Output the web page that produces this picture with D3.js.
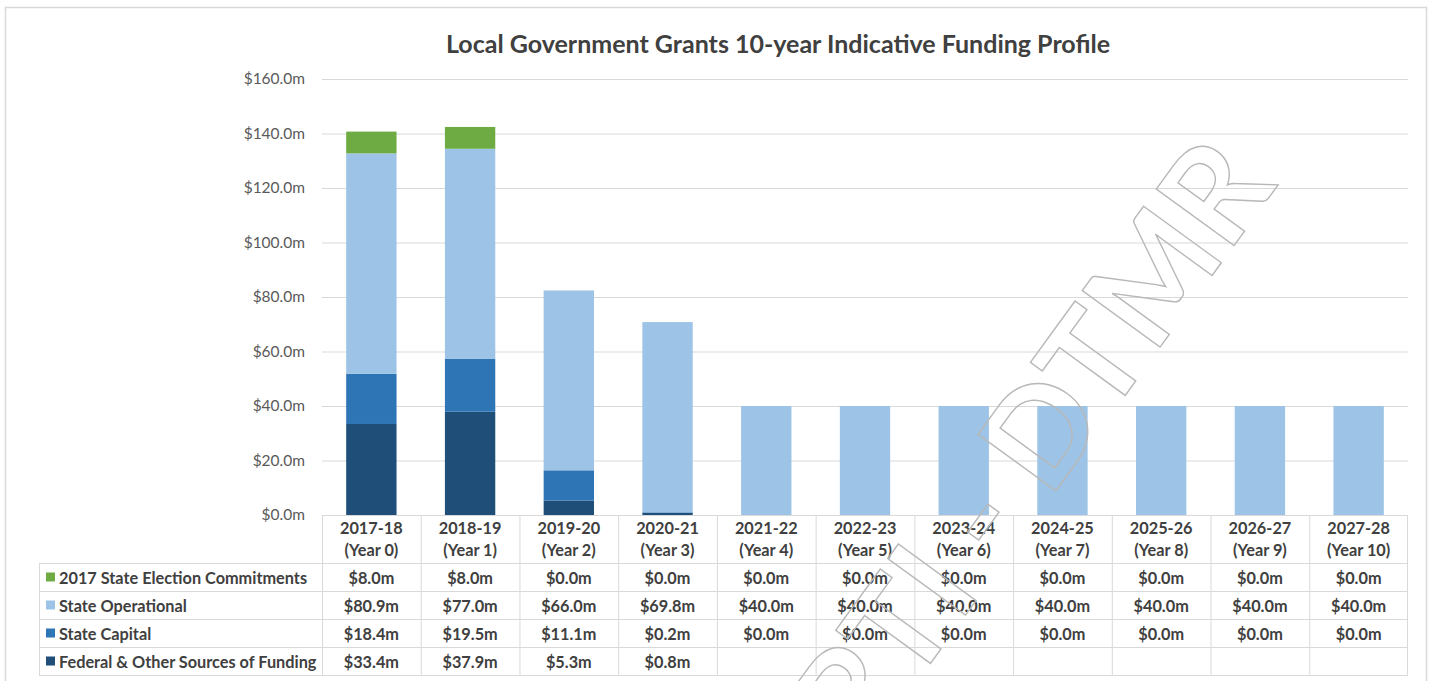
<!DOCTYPE html>
<html>
<head>
<meta charset="utf-8">
<script src="https://cdn.jsdelivr.net/npm/d3@7"></script>
<style>
  html, body { margin: 0; padding: 0; background: #ffffff; }
  svg { display: block; }
  text { font-family: "Lato", "Open Sans", sans-serif; }
</style>
</head>
<body>
<svg id="chart" width="1431" height="681"></svg>
<script>
// Financial years and their programme-year labels
const years = ["2017-18", "2018-19", "2019-20", "2020-21", "2021-22", "2022-23",
               "2023-24", "2024-25", "2025-26", "2026-27", "2027-28"];
const yearTags = ["(Year 0)", "(Year 1)", "(Year 2)", "(Year 3)", "(Year 4)", "(Year 5)",
                  "(Year 6)", "(Year 7)", "(Year 8)", "(Year 9)", "(Year 10)"];

// Funding streams ($m); null = no entry for that year
const electionCommitments = [8.0, 8.0, 0.0, 0.0, 0.0, 0.0, 0.0, 0.0, 0.0, 0.0, 0.0];
const stateOperational    = [80.9, 77.0, 66.0, 69.8, 40.0, 40.0, 40.0, 40.0, 40.0, 40.0, 40.0];
const stateCapital        = [18.4, 19.5, 11.1, 0.2, 0.0, 0.0, 0.0, 0.0, 0.0, 0.0, 0.0];
const federalOther        = [33.4, 37.9, 5.3, 0.8, null, null, null, null, null, null, null];

const seriesNames = ["2017 State Election Commitments", "State Operational",
                     "State Capital", "Federal & Other Sources of Funding"];
const yTicks = [0, 20, 40, 60, 80, 100, 120, 140, 160];

const seriesValues = {
  "2017 State Election Commitments": electionCommitments,
  "State Operational": stateOperational,
  "State Capital": stateCapital,
  "Federal & Other Sources of Funding": federalOther
};
const seriesColors = {
  "2017 State Election Commitments": "#6eac43",
  "State Operational": "#9dc3e6",
  "State Capital": "#2e75b6",
  "Federal & Other Sources of Funding": "#1f4e79"
};
// bottom-to-top stacking order
const stackOrder = ["Federal & Other Sources of Funding", "State Capital",
                    "State Operational", "2017 State Election Commitments"];

const svg = d3.select("#chart");
const fmt = v => "$" + v.toFixed(1) + "m";
const gridColor = "#d9d9d9";
const textColor = "#404040";
const tableFont = 16.3;

// Chart frame
svg.append("rect")
  .attr("x", 5.5).attr("y", 7.5).attr("width", 1421).attr("height", 690)
  .attr("fill", "#ffffff").attr("stroke", "#d9d9d9").attr("stroke-width", 1.5);

// Title
svg.append("text")
  .attr("x", 778).attr("y", 43)
  .attr("text-anchor", "middle").attr("dominant-baseline", "central")
  .attr("font-size", 25).attr("font-weight", 700).attr("fill", "#404040")
  .text("Local Government Grants 10-year Indicative Funding Profile");

// Scales
const x = d3.scaleBand().domain(years).range([322, 1408]).padding(0);
const y = d3.scaleLinear().domain([0, 160]).range([515, 79]);
const barW = x.bandwidth() * 0.51;

// Horizontal gridlines and value axis
const yAxis = d3.axisLeft(y).tickValues(yTicks).tickFormat(fmt)
  .tickSize(-(1408 - 322)).tickPadding(17);
const gy = svg.append("g").attr("transform", "translate(322,0)").call(yAxis);
gy.select(".domain").remove();
gy.selectAll(".tick line").attr("stroke", gridColor).attr("stroke-width", 1);
gy.selectAll(".tick text")
  .attr("fill", "#595959").attr("font-size", 15.5)
  .attr("font-family", "Lato, sans-serif");

// Stacked bars
const rows = years.map((yr, i) => {
  const r = { year: yr };
  stackOrder.forEach(s => { r[s] = seriesValues[s][i] || 0; });
  return r;
});
const stacked = d3.stack().keys(stackOrder)(rows);
svg.append("g").selectAll("g")
  .data(stacked).join("g")
  .attr("fill", d => seriesColors[d.key])
  .selectAll("rect")
  .data(d => d).join("rect")
  .attr("x", d => x(d.data.year) + (x.bandwidth() - barW) / 2)
  .attr("width", barW)
  .attr("y", d => y(d[1]))
  .attr("height", d => Math.max(0, y(d[0]) - y(d[1])));

// Data table beneath the category axis
const rowTop = 563, rowH = 28, headTop = 515;
const table = svg.append("g");
const tableLeft = 39, tableRight = 1408;

// column separators
years.forEach((yr, i) => {
  table.append("line")
    .attr("x1", x(yr) + 0.5).attr("x2", x(yr) + 0.5)
    .attr("y1", headTop).attr("y2", rowTop + rowH * 4)
    .attr("stroke", gridColor);
});
table.append("line")
  .attr("x1", tableRight - 0.5).attr("x2", tableRight - 0.5)
  .attr("y1", headTop).attr("y2", rowTop + rowH * 4).attr("stroke", gridColor);
table.append("line")
  .attr("x1", tableLeft + 0.5).attr("x2", tableLeft + 0.5)
  .attr("y1", rowTop).attr("y2", rowTop + rowH * 4).attr("stroke", gridColor);
// row separators
d3.range(5).forEach(k => {
  table.append("line")
    .attr("x1", tableLeft).attr("x2", tableRight)
    .attr("y1", rowTop + rowH * k + 0.5).attr("y2", rowTop + rowH * k + 0.5)
    .attr("stroke", gridColor);
});
// axis baseline
table.append("line")
  .attr("x1", 322).attr("x2", tableRight)
  .attr("y1", y(0) + 0.5).attr("y2", y(0) + 0.5)
  .attr("stroke", gridColor);

// header labels
table.selectAll("text.yr").data(years).join("text")
  .attr("class", "yr")
  .attr("x", d => x(d) + x.bandwidth() / 2).attr("y", 527)
  .attr("text-anchor", "middle").attr("dominant-baseline", "central")
  .attr("font-size", tableFont).attr("font-weight", 700).attr("fill", textColor)
  .text(d => d);
table.selectAll("text.tag").data(years).join("text")
  .attr("class", "tag")
  .attr("x", d => x(d) + x.bandwidth() / 2).attr("y", 549)
  .attr("text-anchor", "middle").attr("dominant-baseline", "central")
  .attr("font-size", tableFont).attr("font-weight", 700).attr("fill", textColor)
  .text((d, i) => yearTags[i]);

// legend keys, series names and values
seriesNames.forEach((name, r) => {
  const cy = rowTop + rowH * r + rowH / 2 + 0.5;
  table.append("rect")
    .attr("x", 46).attr("y", cy - 5).attr("width", 9).attr("height", 9)
    .attr("fill", seriesColors[name]);
  table.append("text")
    .attr("x", 59).attr("y", cy)
    .attr("dominant-baseline", "central")
    .attr("font-size", tableFont).attr("font-weight", 700).attr("fill", textColor)
    .text(name);
  table.selectAll("text.v" + r)
    .data(seriesValues[name].map((v, i) => ({ v, yr: years[i] })).filter(d => d.v !== null))
    .join("text")
    .attr("x", d => x(d.yr) + x.bandwidth() / 2).attr("y", cy)
    .attr("text-anchor", "middle").attr("dominant-baseline", "central")
    .attr("font-size", tableFont).attr("font-weight", 700).attr("fill", textColor)
    .text(d => fmt(d.v));
});

// Outlined diagonal watermark
svg.append("text")
  .attr("transform", "translate(1278,185) rotate(-54)")
  .attr("text-anchor", "end")
  .attr("font-family", "Liberation Sans, Arial, sans-serif")
  .attr("font-size", 133).attr("font-weight", 700)
  .attr("fill", "none").attr("stroke", "#b8b8b8").attr("stroke-width", 1.4)
  .attr("stroke-linejoin", "miter")
  .text("RTI - DTMR");
</script>
</body>
</html>
